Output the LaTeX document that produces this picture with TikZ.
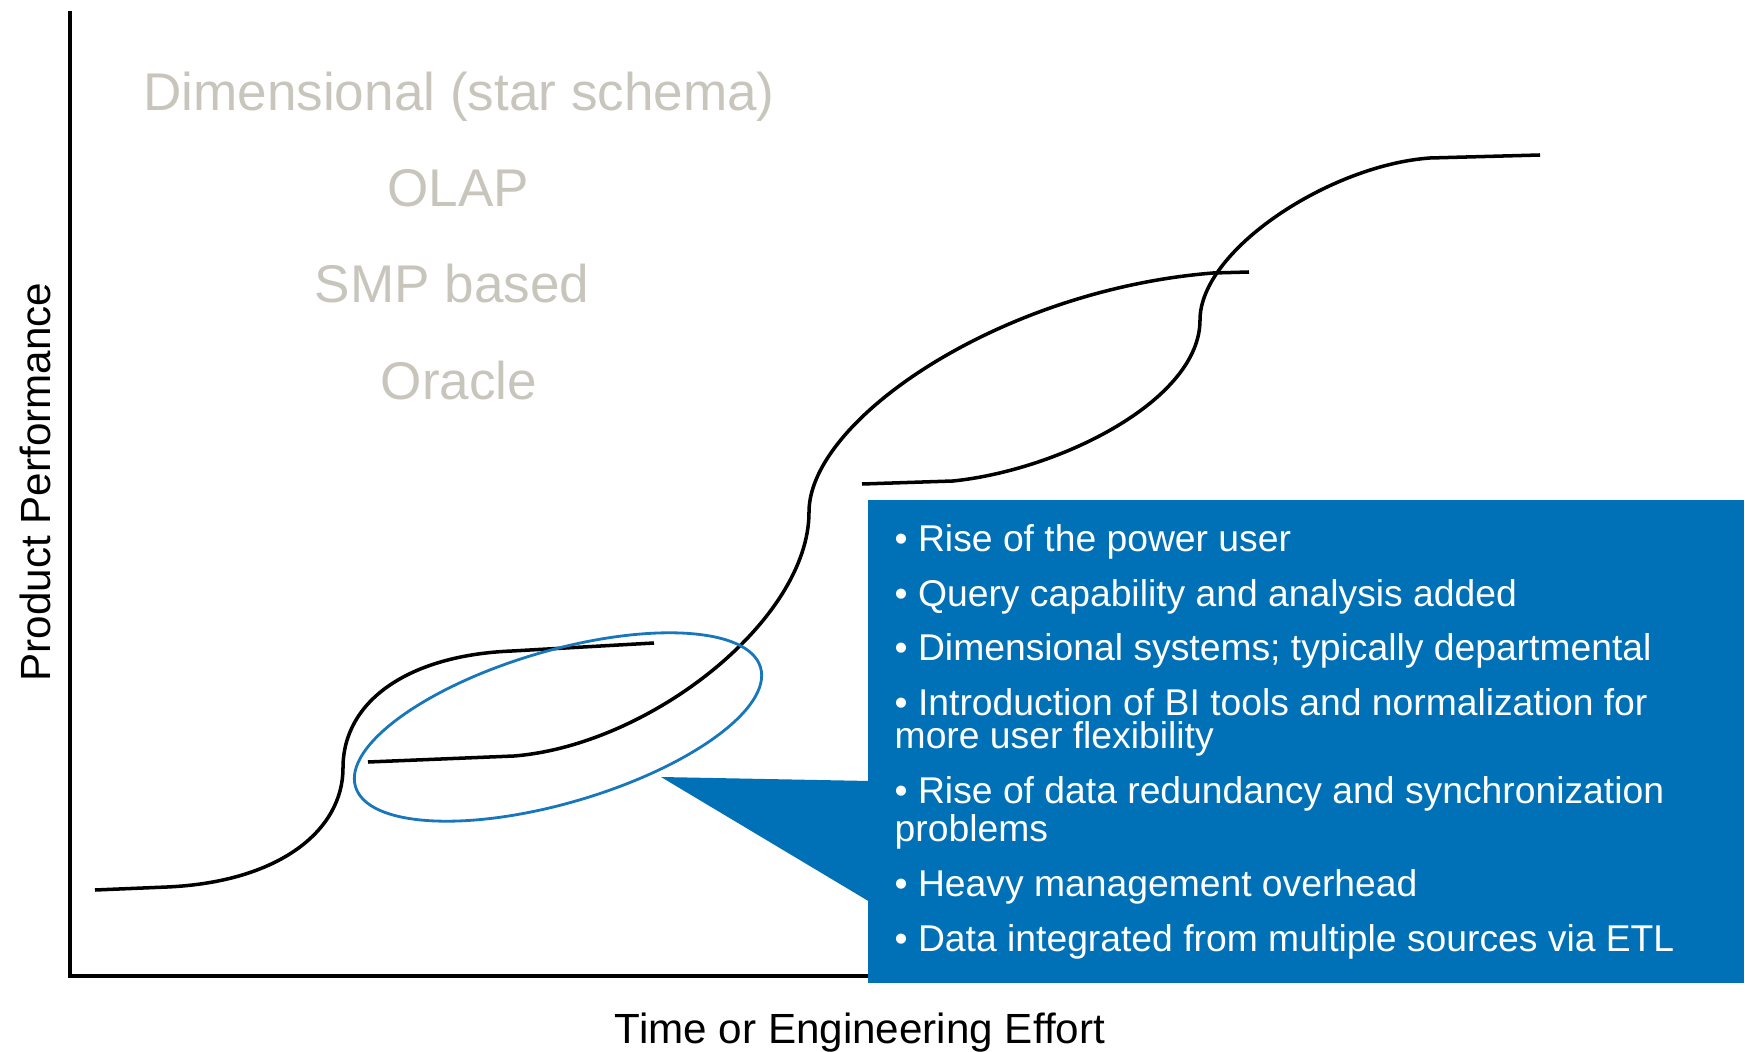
\documentclass[tikz,border=0pt]{standalone}
\usepackage{fontspec}
\setmainfont{Liberation Sans}
\usepackage{tikz}
\usetikzlibrary{positioning,shapes.geometric}
\definecolor{boxblue}{RGB}{0,113,183}
\definecolor{ringblue}{RGB}{24,118,186}
\definecolor{eragray}{RGB}{200,198,188}
\tikzset{
era/.style = {text=eragray, font=\fontsize{15.1}{18}\selectfont, anchor=base},
axislabel/.style = {font=\fontsize{12}{14}\selectfont, anchor=base},
panel/.style = {fill=boxblue, rectangle, anchor=north west, minimum width=8.76cm, minimum height=4.83cm, inner sep=0pt},
note/.style = {text=white, font=\fontsize{10.6}{9.3}\selectfont, align=left, anchor=base west, inner sep=0pt},
curve/.style = {line width=1pt},
halo/.style = {draw=ringblue, line width=0.8pt, ellipse, minimum width=4.22cm, minimum height=1.52cm, inner sep=0pt}
}

\begin{document}
\begin{tikzpicture}[x=0.01cm, y=-0.01cm]
    \useasboundingbox (0,0) rectangle (1745,1052);

    % axes
    \coordinate (origin) at (70,976);
    \coordinate (ytop) at (70,11);
    \coordinate (xend) at (880,976);
    \draw[line width=1pt] (ytop) -- (origin);
    \draw[line width=1.2pt] ([xshift=-0.5pt]origin) -- (xend);

    \node [axislabel, rotate=90] (ylab) at (51,482) {Product Performance};
    \node [axislabel] (xlab) at (860,1043) {Time or Engineering Effort};

    % eras
    \node [era] (dim) at (459,111) {Dimensional (star schema)};
    \node [era] (olap) at (458,207) {OLAP};
    \node [era] (smp) at (452,303) {SMP based};
    \node [era] (ora) at (459,400) {Oracle};

    % s-curves
    \draw[curve] (95,890) -- (167,887) .. controls (280,882) and (343,830) .. (343,768)
      .. controls (343,700) and (410,655) .. (512,651) -- (654,643);
    \draw[curve] (368,762) -- (514,756) .. controls (650,745) and (809,620) .. (809,512)
      .. controls (809,420) and (1000,290) .. (1213,273) -- (1249,272);
    \draw[curve] (862,484) -- (953,481) .. controls (1060,470) and (1200,400) .. (1200,320)
      .. controls (1200,250) and (1330,165) .. (1430,158) -- (1540,155);

    % highlight and callout
    \node [halo, rotate=16.4] (focus) at (558,727) {};
    \node [panel] (panel) at (867,499) {};
    \coordinate (tip) at (661,777);
    \fill[boxblue] (tip) -- (870,781) -- (870,902) -- cycle;

    % base sits on the last line
    \node [note] (notes) at (894,951)
      {\textbullet\ Rise of the power user\\[4.7pt]
       \textbullet\ Query capability and analysis added\\[4.7pt]
       \textbullet\ Dimensional systems; typically departmental\\[4.7pt]
       \textbullet\ Introduction of BI tools and normalization for\\
       more user flexibility\\[4.7pt]
       \textbullet\ Rise of data redundancy and synchronization\\
       problems\\[4.7pt]
       \textbullet\ Heavy management overhead\\[4.7pt]
       \textbullet\ Data integrated from multiple sources via ETL};

\end{tikzpicture}
\end{document}
